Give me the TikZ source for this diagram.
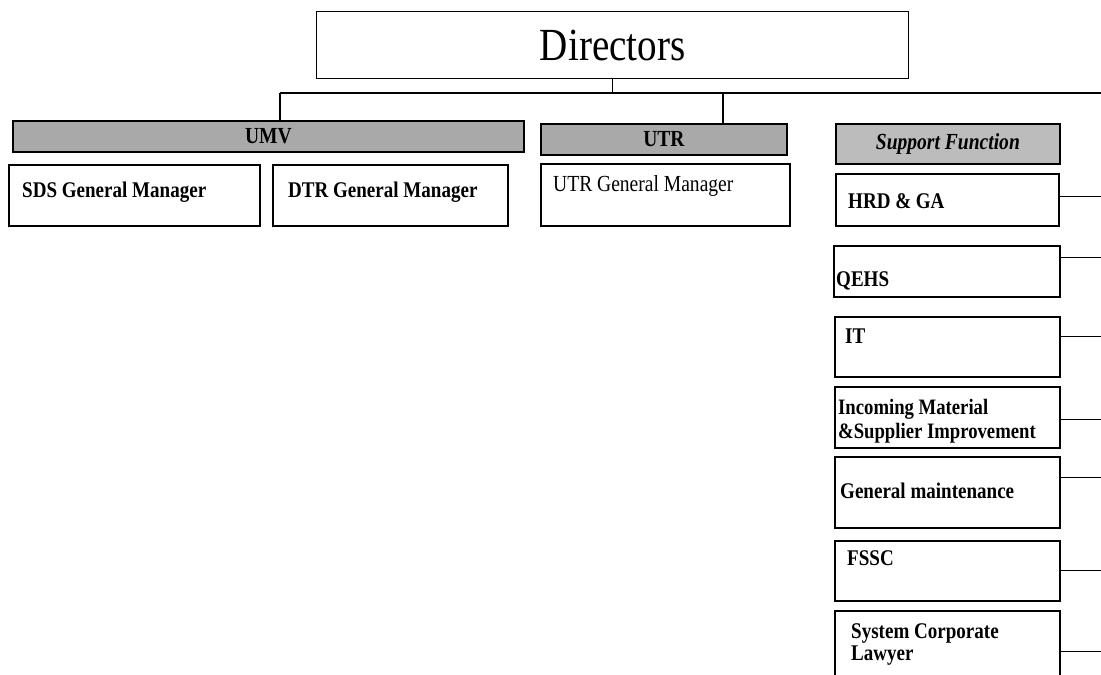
\documentclass[tikz,border=0pt]{standalone}
\usepackage{fontspec}
\newfontfamily\tnr[FakeStretch=0.85, Extension=.ttf,
  UprightFont=LiberationSerif-Regular, BoldFont=LiberationSerif-Bold,
  ItalicFont=LiberationSerif-Italic, BoldItalicFont=LiberationSerif-BoldItalic]{LiberationSerif}
\usetikzlibrary{calc,positioning}
\definecolor{bargray}{HTML}{A9A9A9}
\definecolor{supgray}{HTML}{BCBCBC}

\tikzset{
  dirbox/.style={draw, line width=1.3pt, anchor=north west, inner sep=0pt,
    minimum width=592pt, minimum height=67pt, font=\tnr\fontsize{46}{50}\selectfont},
  bar/.style={draw, line width=1.8pt, fill=bargray, anchor=north west, inner sep=0pt,
    minimum height=31pt, font=\tnr\fontsize{23}{26}\selectfont\bfseries},
  box/.style={draw, line width=2.4pt, anchor=north west, inner sep=0pt},
  txt/.style={inner sep=0pt, anchor=base west, font=\tnr\fontsize{22.4}{23}\selectfont\bfseries},
  link/.style={line width=1.5pt},
  side/.style={line width=1pt}
}

\begin{document}
\begin{tikzpicture}[x=1pt,y=-1pt]
  \useasboundingbox (0,0) rectangle (1101,675);

  % top
  \node[dirbox](dir) at (316,11){Directors};
  \coordinate (busL) at (280,93);
  \coordinate (busU) at (723,93);
  \coordinate (busR) at (1101,93);

  % units
  \node[bar, minimum width=511pt](umv) at (12,120){UMV};
  \node[bar, minimum width=246pt](utr) at (540,123){UTR};
  \node[box, minimum width=251pt, minimum height=61pt](sds) at (8,164){};
  \node[box, minimum width=235pt, minimum height=61pt](dtr) at (272,164){};
  \node[box, minimum width=249pt, minimum height=62pt](utrgm) at (540,163){};
  \node[txt] (sdsT) at ($(sds.north west)+(14,33)$){SDS General Manager};
  \node[txt] (dtrT) at ($(dtr.north west)+(16,33)$){DTR General Manager};
  \node[txt, font=\tnr\fontsize{23}{23}\selectfont] (utrgmT) at ($(utrgm.north west)+(13,28)$){UTR General Manager};
  \path[-, link]
  (dir.south) edge (dir.south |- busL)
  (busL) edge (busR)
  (busL) edge (busL |- umv.north)
  (busU) edge (busU |- utr.north);

  % support
  \node[bar, fill=supgray, minimum width=224pt, minimum height=40pt,
    font=\tnr\fontsize{23}{26}\selectfont\bfseries\itshape](sup) at (835,123){Support Function};
  \node[box, minimum width=223pt, minimum height=52pt](hrd) at (835,173){};
  \node[box, minimum width=226pt, minimum height=51pt](qehs) at (833,245){};
  \node[box, minimum width=225pt, minimum height=60pt](it) at (834,316){};
  \node[box, minimum width=225pt, minimum height=61pt](inc) at (834,386){};
  \node[box, minimum width=225pt, minimum height=71pt](gm) at (834,456){};
  \node[box, minimum width=225pt, minimum height=60pt](fssc) at (834,540){};
  \node[box, minimum width=225pt, minimum height=75pt](scl) at (834,610){};
  \node[txt] (hrdT) at ($(hrd.north west)+(13,35)$){HRD \& GA};
  \node[txt] (qehsT) at ($(qehs.north west)+(3,41)$){QEHS};
  \node[txt] (itT) at ($(it.north west)+(11,27)$){IT};
  \node[txt, align=left, anchor=north west, font=\tnr\fontsize{22}{24}\selectfont\bfseries] (incT) at ($(inc.north west)+(4,13)$){Incoming Material\\\&Supplier Improvement};
  \node[txt] (gmT) at ($(gm.north west)+(6,42)$){General maintenance};
  \node[txt] (fsscT) at ($(fssc.north west)+(13,25)$){FSSC};
  \node[txt, align=left, anchor=north west, font=\tnr\fontsize{22.4}{22}\selectfont\bfseries] (sclT) at ($(scl.north west)+(17,13)$){System Corporate\\Lawyer};
  \coordinate (r1) at (1101,196);
  \coordinate (r2) at (1101,257);
  \coordinate (r3) at (1101,336);
  \coordinate (r4) at (1101,419);
  \coordinate (r5) at (1101,477);
  \coordinate (r6) at (1101,570);
  \coordinate (r7) at (1101,651);
  \path[-, side]
  (hrd.east |- r1) edge (r1)
  (qehs.east |- r2) edge (r2)
  (it.east |- r3) edge (r3)
  (inc.east |- r4) edge (r4)
  (gm.east |- r5) edge (r5)
  (fssc.east |- r6) edge (r6)
  (scl.east |- r7) edge (r7);
\end{tikzpicture}
\end{document}
